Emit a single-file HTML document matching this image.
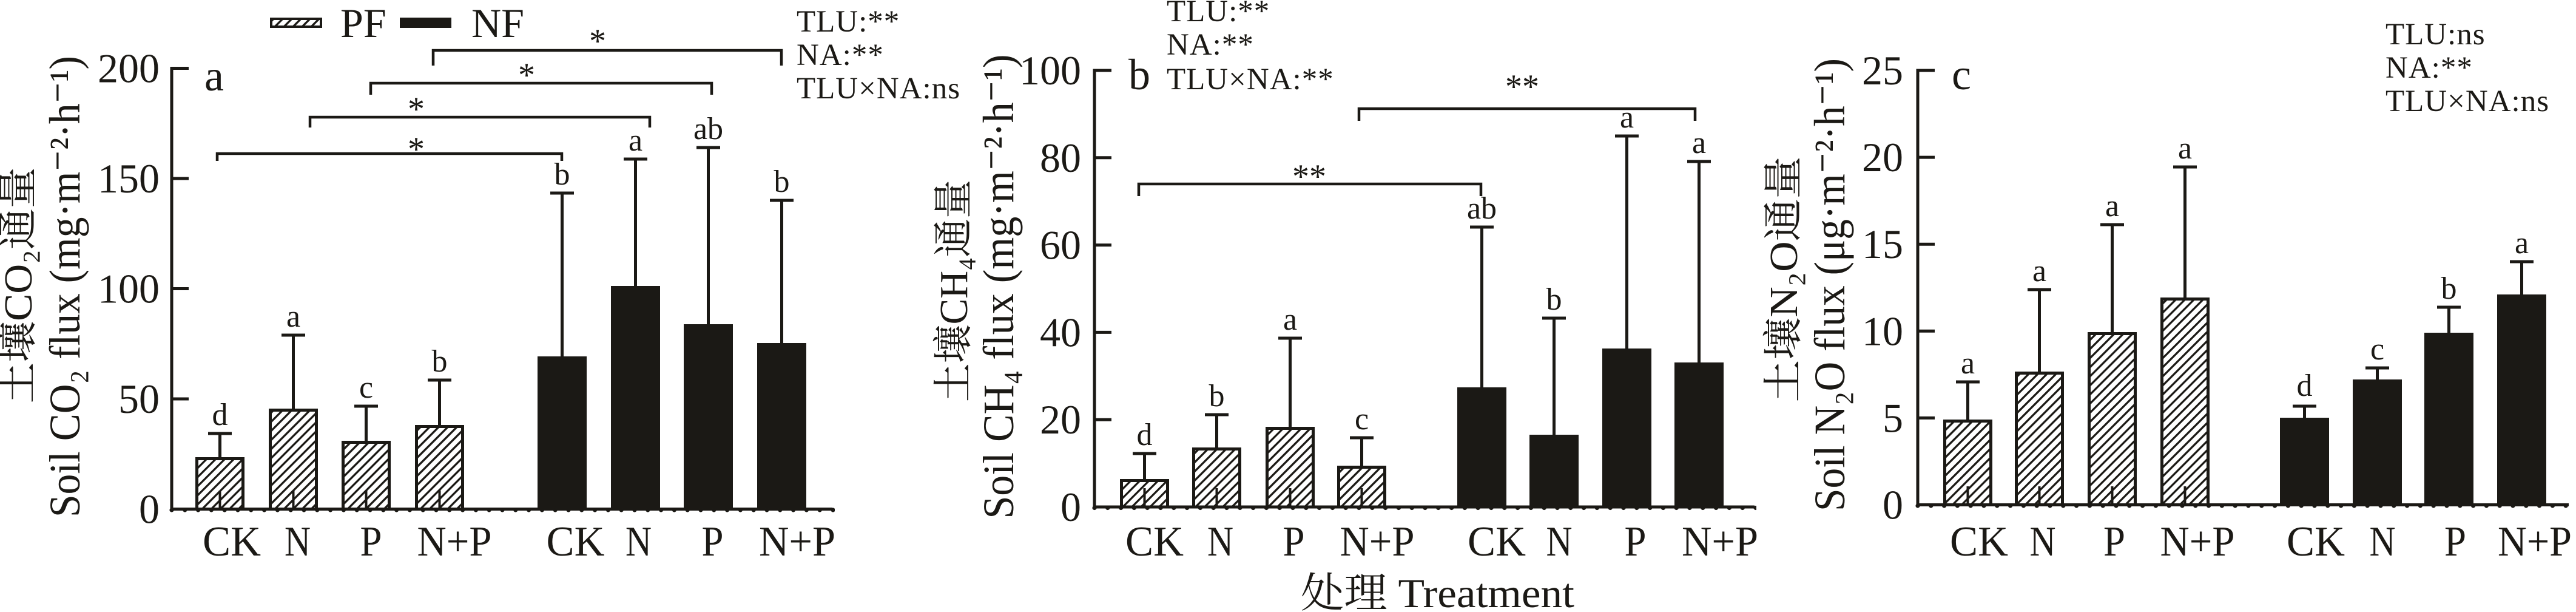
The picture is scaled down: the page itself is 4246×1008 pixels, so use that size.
<!DOCTYPE html>
<html><head><meta charset="utf-8"><style>html,body{margin:0;padding:0;background:#fff;}svg{display:block}</style></head>
<body>
<svg width="4246" height="1008" viewBox="0 0 4246 1008" xmlns="http://www.w3.org/2000/svg" font-family="'Liberation Serif','Noto Serif CJK SC',serif" fill="#1b1915">
<defs>
<pattern id="hatch" patternUnits="userSpaceOnUse" width="10.6" height="10.6" patternTransform="rotate(45)"><rect x="0" y="0" width="10.6" height="10.6" fill="#fff"/><rect x="0" y="0" width="3.3" height="10.6" fill="#1b1915"/></pattern>
<pattern id="dA" patternUnits="userSpaceOnUse" x="272.1" y="835" width="21.8" height="10"><circle cx="10.9" cy="5" r="3.6" fill="#1b1915"/></pattern>
<pattern id="dB" patternUnits="userSpaceOnUse" x="1793.1" y="831.5" width="21.8" height="10"><circle cx="10.9" cy="5" r="3.6" fill="#1b1915"/></pattern>
<pattern id="dC" patternUnits="userSpaceOnUse" x="3150.1" y="828" width="21.8" height="10"><circle cx="10.9" cy="5" r="3.6" fill="#1b1915"/></pattern>
</defs>
<rect x="0" y="0" width="4246" height="1008" fill="#fff"/>

<!-- Legend -->
<rect x="447" y="31" width="82" height="13" fill="url(#hatch)" stroke="#1b1915" stroke-width="4"/>
<rect x="659" y="29" width="85" height="17"/>
<text x="561" y="61" font-size="68">PF</text>
<text x="777" y="61" font-size="68">NF</text>

<!-- ================= PANEL A ================= -->
<g stroke="#1b1915" fill="none" stroke-width="5">
<line x1="283" y1="110" x2="283" y2="841"/>
<line x1="281" y1="838.5" x2="1372" y2="838.5"/>
<path d="M283 112.5H311 M283 294H311 M283 475.5H311 M283 657H311"/>
</g>
<g font-size="68" text-anchor="end">
<text x="263" y="135.5">200</text><text x="263" y="317">150</text><text x="263" y="498.5">100</text><text x="263" y="680">50</text><text x="263" y="861.5">0</text>
</g>
<text x="337" y="149" font-size="72">a</text>
<text transform="translate(52,470) rotate(-90)" text-anchor="middle" font-size="66" textLength="389" lengthAdjust="spacingAndGlyphs">土壤CO₂通量</text>
<text transform="translate(131,472) rotate(-90)" text-anchor="middle" font-size="72" textLength="760" lengthAdjust="spacingAndGlyphs">Soil CO₂ flux (mg·m⁻²·h⁻¹)</text>
<!-- bars -->
<g stroke="#1b1915" stroke-width="5" fill="url(#hatch)">
<rect x="324.5" y="755.5" width="76" height="83"/>
<rect x="445.5" y="675.5" width="76" height="163"/>
<rect x="565.5" y="728.5" width="76" height="110"/>
<rect x="686.5" y="702.5" width="76" height="136"/>
</g>
<rect x="886" y="587" width="81" height="251.5"/>
<rect x="1007" y="471" width="81" height="367.5"/>
<rect x="1127" y="534" width="81" height="304.5"/>
<rect x="1248" y="565" width="81" height="273.5"/>
<g stroke="#1b1915" fill="none" stroke-width="5">
<path d="M362.5 753V714 M343 714H382 M483.5 673V552 M464 552H503 M603.5 726V669 M584 669H623 M724.5 700V626 M705 626H744 M926.5 587V318 M907 318H946 M1047.5 471V262 M1028 262H1067 M1167.5 534V243 M1148 243H1187 M1288.5 565V330 M1269 330H1308"/>
<path stroke-width="4" d="M362.5 838V808 M483.5 838V808 M603.5 838V808 M724.5 838V808"/>
<path stroke-width="4.5" d="M358 265V253H926V265 M511 210V193H1071V210 M611 156V137H1173V156 M714 108V83H1288V108"/>
</g>
<rect x="279" y="835" width="1097" height="10" fill="url(#dA)"/>
<g font-size="52" text-anchor="middle">
<text x="362.5" y="700">d</text><text x="483.5" y="538">a</text><text x="603.5" y="655">c</text><text x="724.5" y="612">b</text>
<text x="926.5" y="304">b</text><text x="1047.5" y="248">a</text><text x="1167.5" y="229">ab</text><text x="1288.5" y="316">b</text>
</g>
<g font-size="56" text-anchor="middle">
<text x="686" y="264">*</text><text x="686" y="198">*</text><text x="868" y="142">*</text><text x="985" y="86">*</text>
</g>
<g font-size="51" letter-spacing="1">
<text x="1313" y="52">TLU:**</text><text x="1313" y="107">NA:**</text><text x="1313" y="162">TLU×NA:ns</text>
</g>
<g font-size="70" text-anchor="middle">
<text x="382" y="915" textLength="96" lengthAdjust="spacingAndGlyphs">CK</text>
<text x="490.5" y="915" textLength="43" lengthAdjust="spacingAndGlyphs">N</text>
<text x="611.5" y="915" textLength="36" lengthAdjust="spacingAndGlyphs">P</text>
<text x="749" y="915" textLength="123" lengthAdjust="spacingAndGlyphs">N+P</text>
<text x="948.5" y="915" textLength="96" lengthAdjust="spacingAndGlyphs">CK</text>
<text x="1052.5" y="915" textLength="43" lengthAdjust="spacingAndGlyphs">N</text>
<text x="1174.5" y="915" textLength="36" lengthAdjust="spacingAndGlyphs">P</text>
<text x="1314" y="915" textLength="126" lengthAdjust="spacingAndGlyphs">N+P</text>
</g>

<!-- ================= PANEL B ================= -->
<g stroke="#1b1915" fill="none" stroke-width="5">
<line x1="1804" y1="113.5" x2="1804" y2="837.5"/>
<line x1="1802" y1="835" x2="2892" y2="835"/>
<path d="M1804 116H1832 M1804 259.8H1832 M1804 403.6H1832 M1804 547.4H1832 M1804 691.2H1832"/>
</g>
<g font-size="68" text-anchor="end">
<text x="1782" y="139">100</text><text x="1782" y="282.8">80</text><text x="1782" y="426.6">60</text><text x="1782" y="570.4">40</text><text x="1782" y="714.2">20</text><text x="1782" y="858">0</text>
</g>
<text x="1860" y="147" font-size="72">b</text>
<text transform="translate(1594,479) rotate(-90)" text-anchor="middle" font-size="66" textLength="366" lengthAdjust="spacingAndGlyphs">土壤CH₄通量</text>
<text transform="translate(1670,472) rotate(-90)" text-anchor="middle" font-size="72" textLength="765" lengthAdjust="spacingAndGlyphs">Soil CH₄ flux (mg·m⁻²·h⁻¹)</text>
<g stroke="#1b1915" stroke-width="5" fill="url(#hatch)">
<rect x="1848.5" y="791.5" width="76" height="43.5"/>
<rect x="1967.5" y="739.5" width="76" height="95.5"/>
<rect x="2088.5" y="705.5" width="76" height="129.5"/>
<rect x="2206.5" y="769.5" width="76" height="65.5"/>
</g>
<rect x="2402" y="638" width="81" height="197"/>
<rect x="2521" y="716" width="81" height="119"/>
<rect x="2641" y="574" width="81" height="261"/>
<rect x="2760" y="597" width="81" height="238"/>
<g stroke="#1b1915" fill="none" stroke-width="5">
<path d="M1886.5 789V747 M1867 747H1906 M2005.5 737V683 M1986 683H2025 M2126.5 703V557 M2107 557H2146 M2244.5 767V721 M2225 721H2264 M2442.5 638V374 M2423 374H2462 M2561.5 716V524 M2542 524H2581 M2681.5 574V224 M2662 224H2701 M2800.5 597V266 M2781 266H2820"/>
<path stroke-width="4" d="M1886.5 834V804 M2005.5 834V804 M2126.5 834V804 M2244.5 834V804"/>
<path stroke-width="4.5" d="M1877 323V303H2441V323 M2240 199V179H2794V199"/>
</g>
<rect x="1800" y="831.5" width="1095" height="10" fill="url(#dB)"/>
<g font-size="52" text-anchor="middle">
<text x="1886.5" y="733">d</text><text x="2005.5" y="669">b</text><text x="2126.5" y="543">a</text><text x="2244.5" y="707">c</text>
<text x="2442.5" y="360">ab</text><text x="2561.5" y="510">b</text><text x="2681.5" y="210">a</text><text x="2800.5" y="252">a</text>
</g>
<g font-size="56" text-anchor="middle">
<text x="2158" y="309">**</text><text x="2509" y="161">**</text>
</g>
<g font-size="51" letter-spacing="1">
<text x="1923" y="35">TLU:**</text><text x="1923" y="90">NA:**</text><text x="1923" y="147">TLU×NA:**</text>
</g>
<g font-size="70" text-anchor="middle">
<text x="1903" y="915" textLength="96" lengthAdjust="spacingAndGlyphs">CK</text>
<text x="2011.5" y="915" textLength="43" lengthAdjust="spacingAndGlyphs">N</text>
<text x="2132.5" y="915" textLength="36" lengthAdjust="spacingAndGlyphs">P</text>
<text x="2270" y="915" textLength="123" lengthAdjust="spacingAndGlyphs">N+P</text>
<text x="2467" y="915" textLength="96" lengthAdjust="spacingAndGlyphs">CK</text>
<text x="2570" y="915" textLength="43" lengthAdjust="spacingAndGlyphs">N</text>
<text x="2695.5" y="915" textLength="36" lengthAdjust="spacingAndGlyphs">P</text>
<text x="2835" y="915" textLength="126" lengthAdjust="spacingAndGlyphs">N+P</text>
</g>
<text x="2144" y="1000" font-size="68" textLength="451" lengthAdjust="spacingAndGlyphs">处理 Treatment</text>

<!-- ================= PANEL C ================= -->
<g stroke="#1b1915" fill="none" stroke-width="5">
<line x1="3161" y1="113.5" x2="3161" y2="834"/>
<line x1="3159" y1="831.5" x2="4234" y2="831.5"/>
<path d="M3161 116H3189 M3161 259.1H3189 M3161 402.2H3189 M3161 545.3H3189 M3161 688.4H3189"/>
</g>
<g font-size="68" text-anchor="end">
<text x="3137" y="139">25</text><text x="3137" y="282.1">20</text><text x="3137" y="425.2">15</text><text x="3137" y="568.3">10</text><text x="3137" y="711.4">5</text><text x="3137" y="854.5">0</text>
</g>
<text x="3217" y="147" font-size="72">c</text>
<text transform="translate(2962,460) rotate(-90)" text-anchor="middle" font-size="66" textLength="405" lengthAdjust="spacingAndGlyphs">土壤N₂O通量</text>
<text transform="translate(3040,469) rotate(-90)" text-anchor="middle" font-size="72" textLength="746" lengthAdjust="spacingAndGlyphs">Soil N₂O flux (μg·m⁻²·h⁻¹)</text>
<g stroke="#1b1915" stroke-width="5" fill="url(#hatch)">
<rect x="3205.5" y="693.5" width="76" height="138"/>
<rect x="3323.5" y="614.5" width="76" height="217"/>
<rect x="3443.5" y="549.5" width="76" height="282"/>
<rect x="3563.5" y="492.5" width="76" height="339"/>
</g>
<rect x="3758" y="688" width="81" height="143.5"/>
<rect x="3878" y="625" width="81" height="206.5"/>
<rect x="3996" y="548" width="81" height="283.5"/>
<rect x="4116" y="485" width="81" height="346.5"/>
<g stroke="#1b1915" fill="none" stroke-width="5">
<path d="M3243.5 691V629 M3224 629H3263 M3361.5 612V477 M3342 477H3381 M3481.5 547V370 M3462 370H3501 M3601.5 490V275 M3582 275H3621 M3798.5 688V669 M3779 669H3818 M3918.5 625V606 M3899 606H3938 M4036.5 548V506 M4017 506H4056 M4156.5 485V431 M4137 431H4176"/>
<path stroke-width="4" d="M3243.5 831V801 M3361.5 831V801 M3481.5 831V801 M3601.5 831V801"/>
</g>
<rect x="3157" y="828" width="1081" height="10" fill="url(#dC)"/>
<g font-size="52" text-anchor="middle">
<text x="3243.5" y="615">a</text><text x="3361.5" y="463">a</text><text x="3481.5" y="356">a</text><text x="3601.5" y="261">a</text>
<text x="3798.5" y="652">d</text><text x="3918.5" y="592">c</text><text x="4036.5" y="492">b</text><text x="4156.5" y="417">a</text>
</g>
<g font-size="51" letter-spacing="1">
<text x="3932" y="73">TLU:ns</text><text x="3932" y="128">NA:**</text><text x="3932" y="183">TLU×NA:ns</text>
</g>
<g font-size="70" text-anchor="middle">
<text x="3262" y="915" textLength="96" lengthAdjust="spacingAndGlyphs">CK</text>
<text x="3367" y="915" textLength="43" lengthAdjust="spacingAndGlyphs">N</text>
<text x="3485" y="915" textLength="36" lengthAdjust="spacingAndGlyphs">P</text>
<text x="3622" y="915" textLength="123" lengthAdjust="spacingAndGlyphs">N+P</text>
<text x="3817" y="915" textLength="96" lengthAdjust="spacingAndGlyphs">CK</text>
<text x="3927" y="915" textLength="43" lengthAdjust="spacingAndGlyphs">N</text>
<text x="4047" y="915" textLength="36" lengthAdjust="spacingAndGlyphs">P</text>
<text x="4178" y="915" textLength="122" lengthAdjust="spacingAndGlyphs">N+P</text>
</g>
</svg>
</body></html>
